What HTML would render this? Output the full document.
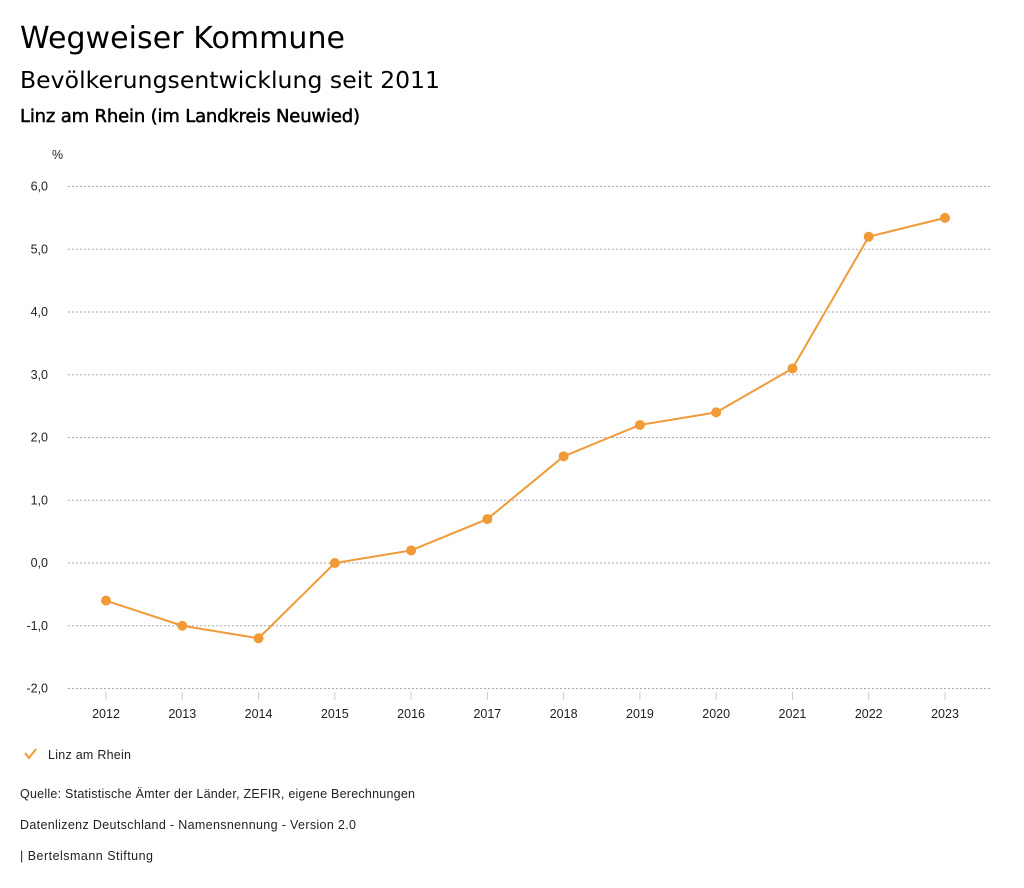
<!DOCTYPE html>
<html><head><meta charset="utf-8"><style>
html,body{margin:0;padding:0;background:#fff;}
svg{display:block;}
.t{font-family:"DejaVu Sans",sans-serif;fill:#000;}
.s{font-family:"Liberation Sans",sans-serif;font-size:12.5px;fill:#222;}
</style></head><body>
<svg id="c" width="1024" height="888" viewBox="0 0 1024 888">
<text class="t" x="20" y="48" font-size="30" textLength="325">Wegweiser Kommune</text>
<text class="t" x="20" y="88" font-size="23.5" textLength="420">Bevölkerungsentwicklung seit 2011</text>
<text class="t" x="20" y="122" font-size="18" stroke="#000" stroke-width="0.5" textLength="340">Linz am Rhein (im Landkreis Neuwied)</text>
<text class="s" x="52" y="159">%</text>
<g id="grid"></g><g id="xax"></g><g id="series"></g>
<g>
<polyline points="25,753 29,758 36,749" fill="none" stroke="#f09a38" stroke-width="2"/>
<text class="s" x="48" y="759" textLength="83">Linz am Rhein</text>
</g>
<text class="s" x="20" y="798" textLength="395">Quelle: Statistische Ämter der Länder, ZEFIR, eigene Berechnungen</text>
<text class="s" x="20" y="829" textLength="336">Datenlizenz Deutschland - Namensnennung - Version 2.0</text>
<text class="s" x="20" y="860" textLength="133">| Bertelsmann Stiftung</text>
</svg>
<script>
const years=["2012","2013","2014","2015","2016","2017","2018","2019","2020","2021","2022","2023"];
const values=[-0.6,-1.0,-1.2,0.0,0.2,0.7,1.7,2.2,2.4,3.1,5.2,5.5];
const yTicks=[6,5,4,3,2,1,0,-1,-2];
const yTickLabels=["6,0","5,0","4,0","3,0","2,0","1,0","0,0","-1,0","-2,0"];
const NS="http://www.w3.org/2000/svg";
function y(v){return 563-(v)*62.75;}
function x(i){return 106+i*(945-106)/(years.length-1);}
function mk(t,a,p){const e=document.createElementNS(NS,t);for(const k in a)e.setAttribute(k,a[k]);p.appendChild(e);return e;}
const g=document.getElementById('grid');
yTicks.forEach((v,i)=>{
 const l=mk('line',{x1:68,x2:990,y1:y(v),y2:y(v),stroke:'#aaa','stroke-width':1,'stroke-dasharray':'2,2'},g);
 
 
 const t=mk('text',{x:48,y:y(v)+4,'text-anchor':'end',class:'s'},g);
 t.textContent=yTickLabels[i];
 
 
});
const xa=document.getElementById('xax');
years.forEach((yr,i)=>{
 const l=mk('line',{x1:x(i),x2:x(i),y1:692,y2:700,stroke:'#ccc','stroke-width':1},xa);
 
 
 const t=mk('text',{x:x(i),y:718,'text-anchor':'middle',class:'s'},xa);
 t.textContent=yr;
 
 
});
const s=document.getElementById('series');
const pl=mk('polyline',{points:values.map((v,i)=>x(i)+','+y(v)).join(' '),fill:'none',stroke:'#f09a38','stroke-width':2},s);


values.forEach((v,i)=>{
 const c=mk('circle',{cx:x(i),cy:y(v),r:5,fill:'#f09a38'},s);
 
 
});
</script>
</body></html>
